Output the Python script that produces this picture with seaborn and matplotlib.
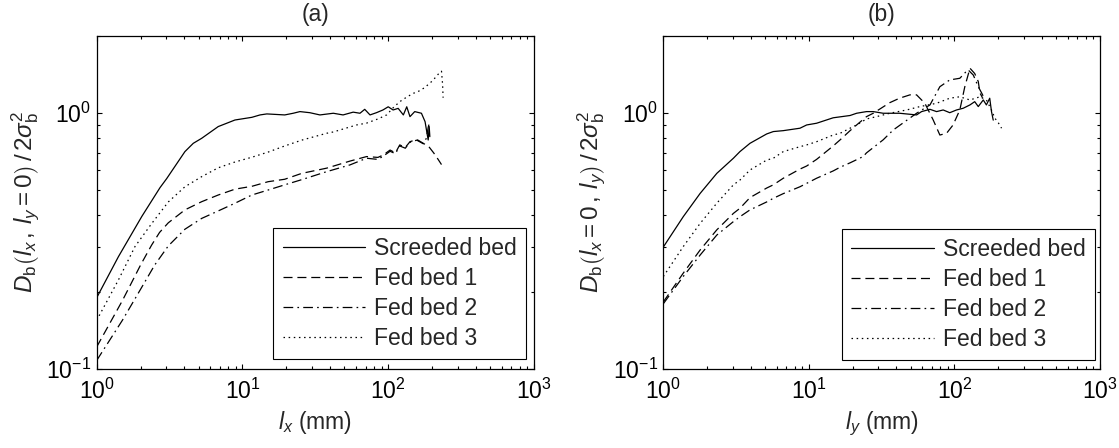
import matplotlib
matplotlib.use("Agg")
import matplotlib.pyplot as plt
import matplotlib.ticker as mticker
import numpy as np
import pandas as pd
import seaborn as sns

# ---- data: structure function of bed elevations, panel (a) along x ----
labels = ["Screeded bed", "Fed bed 1", "Fed bed 2", "Fed bed 3"]

ax_screeded_x = [1, 1.41, 2.04, 2.72, 3.02, 4.03, 4.6, 5.25, 6.82, 7.8, 8.88, 11.6, 13.2, 14.7,
                 19.5, 22.3, 24.8, 29, 34, 42, 49, 57.5, 64, 69, 75, 83, 92, 100, 108, 117,
                 127, 134, 141, 152, 169, 179, 183, 188, 191, 193]
ax_screeded_y = [0.19, 0.275, 0.395, 0.512, 0.555, 0.708, 0.763, 0.798, 0.887, 0.914, 0.941,
                 0.964, 0.985, 0.994, 0.985, 1.0, 1.015, 1.005, 0.985, 1.0, 0.985, 1.01, 1.0,
                 1.036, 0.985, 1.005, 1.03, 1.06, 1.03, 1.045, 0.985, 1.06, 0.97, 1.015, 1.0,
                 0.927, 0.86, 0.786, 0.887, 0.81]

ax_fed1_x = [1, 1.5, 2, 2.38, 2.7, 3.1, 4.03, 5.25, 6.82, 8.9, 11.6, 15, 19.5, 25.5, 37.8,
             54.6, 71, 85, 92.5, 103, 112, 120, 131, 141, 157, 174, 190, 205, 220, 232]
ax_fed1_y = [0.122, 0.185, 0.255, 0.305, 0.342, 0.373, 0.419, 0.451, 0.479, 0.505, 0.518,
             0.54, 0.552, 0.582, 0.61, 0.65, 0.677, 0.672, 0.687, 0.718, 0.70, 0.752, 0.735,
             0.774, 0.79, 0.763, 0.74, 0.70, 0.66, 0.63]

ax_fed2_x = [1, 1.5, 2, 2.5, 3.1, 4.03, 5.25, 6.82, 8.9, 11.6, 15, 19.5, 25.5, 37.8, 54.6,
             71, 85, 92.5, 103, 112, 120, 131, 141, 157, 174, 183, 188, 192]
ax_fed2_y = [0.108, 0.155, 0.205, 0.255, 0.303, 0.352, 0.388, 0.415, 0.445, 0.479, 0.501,
             0.525, 0.55, 0.591, 0.628, 0.667, 0.66, 0.68, 0.71, 0.695, 0.745, 0.73, 0.77,
             0.785, 0.76, 0.80, 0.88, 0.92]

ax_fed3_x = [1, 1.41, 1.83, 2.38, 3.1, 4.03, 5.25, 6.82, 8.9, 11.6, 15, 19.5, 25.5, 37.8,
             42, 60.7, 71, 85, 97.5, 108, 120, 135, 149, 162, 174, 190, 204, 215, 225, 232,
             236, 238]
ax_fed3_y = [0.155, 0.223, 0.301, 0.37, 0.45, 0.516, 0.565, 0.612, 0.645, 0.673, 0.705,
             0.745, 0.785, 0.835, 0.845, 0.9, 0.915, 0.95, 0.985, 1.05, 1.11, 1.16, 1.197,
             1.22, 1.25, 1.3, 1.35, 1.4, 1.44, 1.46, 1.3, 1.15]

# ---- panel (b) along y ----
by_screeded_x = [1, 1.37, 1.79, 2.33, 3.03, 3.36, 3.94, 5.13, 5.7, 6.67, 8.69, 9.66, 11.3,
                 14.7, 19.2, 21.3, 24.9, 27.7, 32.4, 42, 55, 59.5, 68, 75.5, 83.8, 93, 103.5,
                 115, 128, 138, 146, 158, 166, 175, 180, 185]
by_screeded_y = [0.30, 0.394, 0.486, 0.582, 0.667, 0.708, 0.763, 0.83, 0.848, 0.855, 0.874,
                 0.9, 0.914, 0.96, 0.98, 1.0, 1.015, 1.015, 1.0, 1.0, 0.985, 1.015, 1.036,
                 1.015, 1.03, 1.005, 1.03, 1.046, 1.078, 1.11, 1.062, 1.127, 1.078, 1.145,
                 1.015, 0.94]

by_fed1_x = [1, 1.37, 1.79, 2.33, 3.03, 3.36, 3.94, 5.13, 5.7, 6.67, 8.69, 9.66, 11.3, 14.7,
             16.4, 19.2, 21.3, 24.9, 27.7, 36, 42, 49.5, 55, 62.7, 71.5, 79.5, 88.4, 98, 109,
             118, 128, 138, 146, 150, 156]
by_fed1_y = [0.183, 0.237, 0.292, 0.35, 0.406, 0.425, 0.468, 0.51, 0.525, 0.557, 0.605, 0.622,
             0.66, 0.745, 0.787, 0.855, 0.9, 0.97, 1.0, 1.1, 1.145, 1.18, 1.18, 1.094, 0.942,
             0.822, 0.835, 0.9, 1.03, 1.27, 1.5, 1.43, 1.33, 1.2, 1.15]

by_fed2_x = [1, 1.37, 1.79, 2.33, 3.03, 3.36, 3.94, 5.13, 5.7, 6.67, 8.69, 9.66, 11.3, 14.7,
             16.4, 19.2, 23.6, 24.9, 32.4, 38, 55, 68, 79.5, 93, 109, 124, 135, 146, 154, 160]
by_fed2_y = [0.18, 0.23, 0.279, 0.334, 0.377, 0.394, 0.419, 0.45, 0.465, 0.485, 0.516, 0.532,
             0.557, 0.595, 0.615, 0.64, 0.677, 0.70, 0.787, 0.86, 1.0, 1.078, 1.27, 1.35,
             1.37, 1.48, 1.41, 1.27, 1.2, 1.15]

by_fed3_x = [1, 1.37, 1.79, 2.33, 3.03, 3.36, 3.94, 5.13, 5.7, 6.67, 8.69, 9.66, 11.3, 14.7,
             16.4, 19.2, 21.3, 24.9, 29.2, 36, 47, 58, 75.5, 93, 109, 128, 150, 166, 180,
             190, 200, 211]
by_fed3_y = [0.23, 0.301, 0.371, 0.445, 0.525, 0.548, 0.6, 0.656, 0.667, 0.708, 0.74, 0.752,
             0.774, 0.822, 0.835, 0.874, 0.9, 0.95, 0.97, 1.0, 1.03, 1.062, 1.094, 1.145, 1.16,
             1.127, 1.16, 1.127, 1.03, 0.956, 0.92, 0.874]

panel_titles = ["(a)", "(b)"]
x_labels = [r"$l_x$ (mm)", r"$l_y$ (mm)"]
y_labels = [r"$D_\mathrm{b}\left(l_x\,,\,l_y = 0\right)\,/\,2\sigma_\mathrm{b}^2$",
            r"$D_\mathrm{b}\left(l_x = 0\,,\,l_y\right)\,/\,2\sigma_\mathrm{b}^2$"]

# ---- style ----
sns.set_style("ticks")
plt.rcParams["font.family"] = ["Liberation Sans", "DejaVu Sans"]
plt.rcParams["mathtext.fontset"] = "custom"
plt.rcParams["mathtext.rm"] = "Liberation Sans"
plt.rcParams["mathtext.it"] = "Liberation Sans:italic"
plt.rcParams["mathtext.bf"] = "Liberation Sans:bold"
plt.rcParams["lines.scale_dashes"] = False
plt.rcParams["axes.linewidth"] = 0.9

FS = 16.5
line_styles = ["-", (0, (6.5, 3.5)), (0, (7, 3, 1.2, 3)), (0, (1.1, 2.6))]

fig = plt.figure(figsize=(11.19, 4.48), dpi=100)
axes = [fig.add_axes([0.0864, 0.1763, 0.3908, 0.744]),
        fig.add_axes([0.5928, 0.1763, 0.3901, 0.744])]

panels = [
    [(ax_screeded_x, ax_screeded_y), (ax_fed1_x, ax_fed1_y),
     (ax_fed2_x, ax_fed2_y), (ax_fed3_x, ax_fed3_y)],
    [(by_screeded_x, by_screeded_y), (by_fed1_x, by_fed1_y),
     (by_fed2_x, by_fed2_y), (by_fed3_x, by_fed3_y)],
]
legend_anchor = [(0.982, 0.030), (0.9886, 0.027)]

for i, ax in enumerate(axes):
    for (xs, ys), lab, ls in zip(panels[i], labels, line_styles):
        df = pd.DataFrame({"l": xs, "D": ys})
        sns.lineplot(data=df, x="l", y="D", ax=ax, color="black", linewidth=0.9,
                     linestyle=ls, label=lab, sort=False, estimator=None)
    ax.set_xscale("log")
    ax.set_yscale("log")
    ax.set_xlim(1, 1000)
    ax.set_ylim(0.1, 2.01)
    ax.xaxis.set_major_locator(mticker.LogLocator(base=10, numticks=10))
    ax.xaxis.set_minor_locator(mticker.LogLocator(base=10, subs=np.arange(2, 10), numticks=20))
    ax.yaxis.set_major_locator(mticker.LogLocator(base=10, numticks=10))
    ax.yaxis.set_minor_locator(mticker.LogLocator(base=10, subs=np.arange(2, 10), numticks=20))
    ax.xaxis.set_minor_formatter(mticker.NullFormatter())
    ax.yaxis.set_minor_formatter(mticker.NullFormatter())
    ax.tick_params(which="both", direction="in", top=True, right=True, width=0.8,
                   labelsize=FS, colors="black")
    ax.tick_params(which="major", length=3.8)
    ax.tick_params(which="minor", length=2.3)
    ax.tick_params(axis="x", which="major", pad=7)
    ax.tick_params(axis="y", which="major", pad=4)
    for sp in ax.spines.values():
        sp.set_visible(True)
        sp.set_color("black")
    ax.set_xlabel(x_labels[i], fontsize=FS, labelpad=4)
    ax.set_ylabel(y_labels[i], fontsize=17.5, labelpad=3)
    ax.set_title(panel_titles[i], fontsize=FS, pad=10.5)
    leg = ax.legend(loc="lower right", bbox_to_anchor=legend_anchor[i], borderaxespad=0,
                    fontsize=FS, frameon=True, fancybox=False, framealpha=1,
                    edgecolor="black", handlelength=3.6, handletextpad=0.4,
                    borderpad=0.4, labelspacing=0.3)
    leg.get_frame().set_linewidth(0.8)

fig.savefig("out.png", dpi=100)
